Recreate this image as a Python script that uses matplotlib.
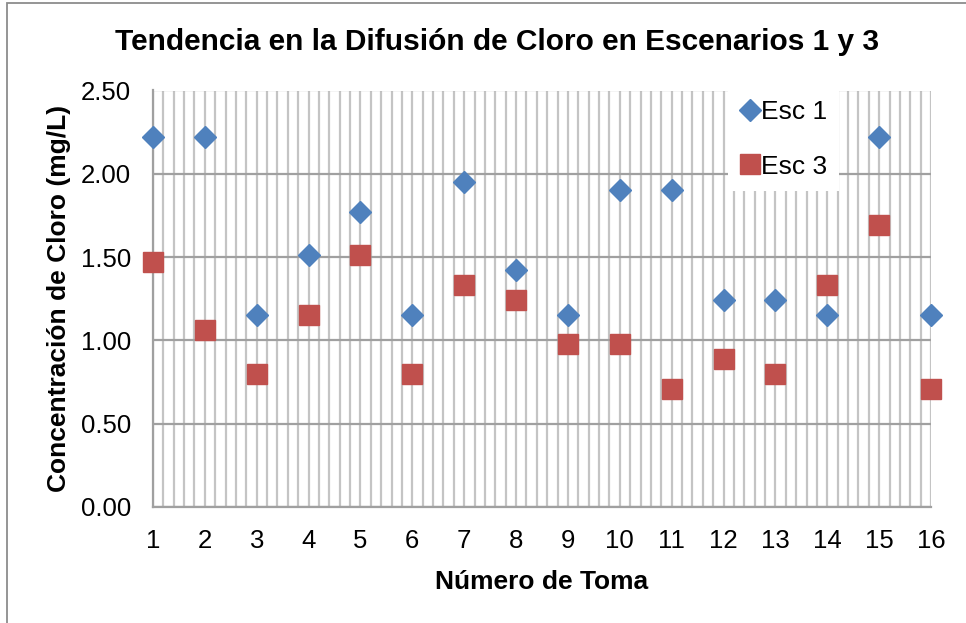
import numpy as np
import matplotlib.pyplot as plt
from matplotlib.patches import Rectangle

toma = list(range(1, 17))
esc1 = [2.22, 2.22, 1.15, 1.51, 1.77, 1.15, 1.95, 1.42, 1.15, 1.90, 1.90, 1.24, 1.24, 1.15, 2.22, 1.15]
esc3 = [1.47, 1.06, 0.80, 1.15, 1.51, 0.80, 1.33, 1.24, 0.98, 0.98, 0.71, 0.89, 0.80, 1.33, 1.69, 0.71]

plt.rcParams['font.family'] = ['Liberation Sans', 'DejaVu Sans']

fig = plt.figure(figsize=(9.66, 6.23), dpi=100)
ax = fig.add_axes([153/966, 1 - 507/623, (931-153)/966, (507-90.5)/623])

# chart border
fig.patches.append(Rectangle((7/966, -0.1), 1.2, 1 - 3/623 + 0.1, transform=fig.transFigure,
                             fill=False, edgecolor='#8c8c8c', linewidth=1.3))

ax.set_xlim(1, 16)
ax.set_ylim(0, 2.5)
ax.set_xticks(toma)
ax.set_xticks(np.arange(1, 16.01, 0.2), minor=True)
ax.set_yticks(np.arange(0, 2.51, 0.5))
ax.set_yticklabels([f'{v:.2f}' for v in np.arange(0, 2.51, 0.5)])

ax.grid(which='minor', axis='x', color='#c4c4c4', linewidth=1.6)
ax.grid(which='major', axis='x', color='#c4c4c4', linewidth=1.6)
ax.grid(which='major', axis='y', color='#a0a0a0', linewidth=1.6)
ax.set_axisbelow(True)

for s in ['top', 'right']:
    ax.spines[s].set_visible(False)
for s in ['left', 'bottom']:
    ax.spines[s].set_color('#a0a0a0')
    ax.spines[s].set_linewidth(1.6)
ax.tick_params(which='both', length=0, labelsize=18.5, colors='black')
ax.tick_params(axis='y', pad=16)
ax.tick_params(axis='x', pad=16)

ax.plot(toma, esc1, linestyle='none', marker='D', markersize=11.5, color='#4F81BD',
        label='Esc 1', clip_on=False, zorder=3)
ax.plot(toma, esc3, linestyle='none', marker='s', markersize=14.5, color='#C0504D',
        label='Esc 3', clip_on=False, zorder=3)

fig.text(497/966, 1 - 42/623, 'Tendencia en la Difusión de Cloro en Escenarios 1 y 3',
         fontsize=21.5, fontweight='bold', ha='center', va='center')
ax.set_xlabel('Número de Toma', fontsize=19, fontweight='bold', labelpad=12)
ax.set_ylabel('Concentración de Cloro (mg/L)', fontsize=19, fontweight='bold', labelpad=7)

leg = ax.legend(loc='upper left', bbox_to_anchor=((728-153)/778, 1.005), frameon=True,
                fancybox=False, edgecolor='none', framealpha=1, fontsize=19,
                handletextpad=0.0, handlelength=0.8, borderpad=0.45, labelspacing=1.15,
                borderaxespad=0)
leg.get_frame().set_linewidth(0)

fig.savefig('out.png', dpi=100)
